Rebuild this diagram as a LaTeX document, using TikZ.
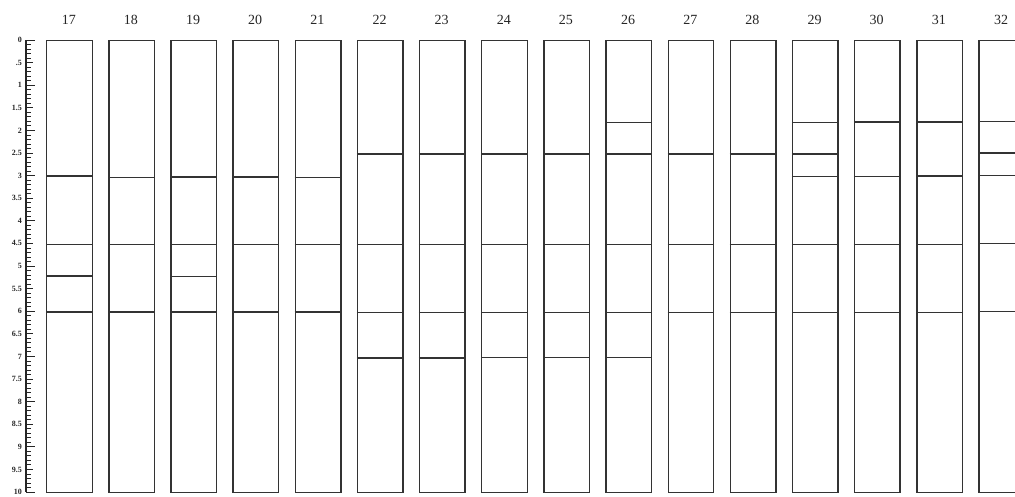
\documentclass[tikz,border=0pt]{standalone}
\usepackage{fontspec}
\setmainfont{Liberation Serif}
\begin{document}
\begin{tikzpicture}[x=1pt,y=-1pt,
  lane/.style={draw=black!80, line width=1.4pt, minimum width=45.5pt, minimum height=452pt, inner sep=0pt, anchor=north west},
  band/.style={draw=black!80, line width=1.3pt},
  lanelabel/.style={font=\fontsize{14}{14}\selectfont, text=black!85},
  rulerlabel/.style={font=\bfseries\fontsize{8}{8}\selectfont, anchor=east, inner sep=0pt, text=black!85},
  rulerline/.style={draw=black!85, line width=1.2pt},
  tick/.style={draw=black!85, line width=0.8pt}]
\fill[white] (0,0) rectangle (1015,496);
\clip (0,0) rectangle (1015,496);
% lanes
\foreach \n [count=\i from 0] in {17,...,32} {
  \node[lane] (lane\n) at ({46+62.15*\i},40) {};
  \node[lanelabel] (lab\n) at ({46+62.15*\i+22.75},20) {\n};
}
% bands
\foreach \n/\ys in {
  17/{176,244.5,276,312},
  18/{177.5,244.5,312},
  19/{177,244.5,276.5,312},
  20/{177,244.5,312},
  21/{177.5,244.5,312},
  22/{154,244.5,312.5,358},
  23/{154,244.5,312.5,358},
  24/{154,244.5,312.5,357.5},
  25/{154,244.5,312.5,357.5},
  26/{122.5,154,244.5,312.5,357.5},
  27/{154,244.5,312.5},
  28/{154,244.5,312.5},
  29/{122.5,154,176.5,244.5,312.5},
  30/{122,176.5,244.5,312.5},
  31/{122,176,244.5,312.5},
  32/{121.5,153,175.5,243.5,311.5}} {
  \foreach \y in \ys {
    \draw[band] (lane\n.west |- 0,\y) -- (lane\n.east |- 0,\y);
  }
}
% ruler
\coordinate (rtop) at (26,40);
\coordinate (rbot) at (26,492);
\draw[rulerline] (rtop) -- (rbot);
\foreach \k in {0,...,100} {
  \pgfmathsetmacro{\len}{ifthenelse(mod(\k,10)==0,9,ifthenelse(mod(\k,5)==0,7,4.5))}
  \draw[tick] (26,{40+4.52*\k}) -- ++(\len,0);
}
\foreach \k/\t in {0/0,1/.5,2/1,3/1.5,4/2,5/2.5,6/3,7/3.5,8/4,9/4.5,10/5,11/5.5,12/6,13/6.5,14/7,15/7.5,16/8,17/8.5,18/9,19/9.5,20/10} {
  \node[rulerlabel] (r\k) at (22,{40+22.6*\k}) {\t};
}
\end{tikzpicture}
\end{document}
